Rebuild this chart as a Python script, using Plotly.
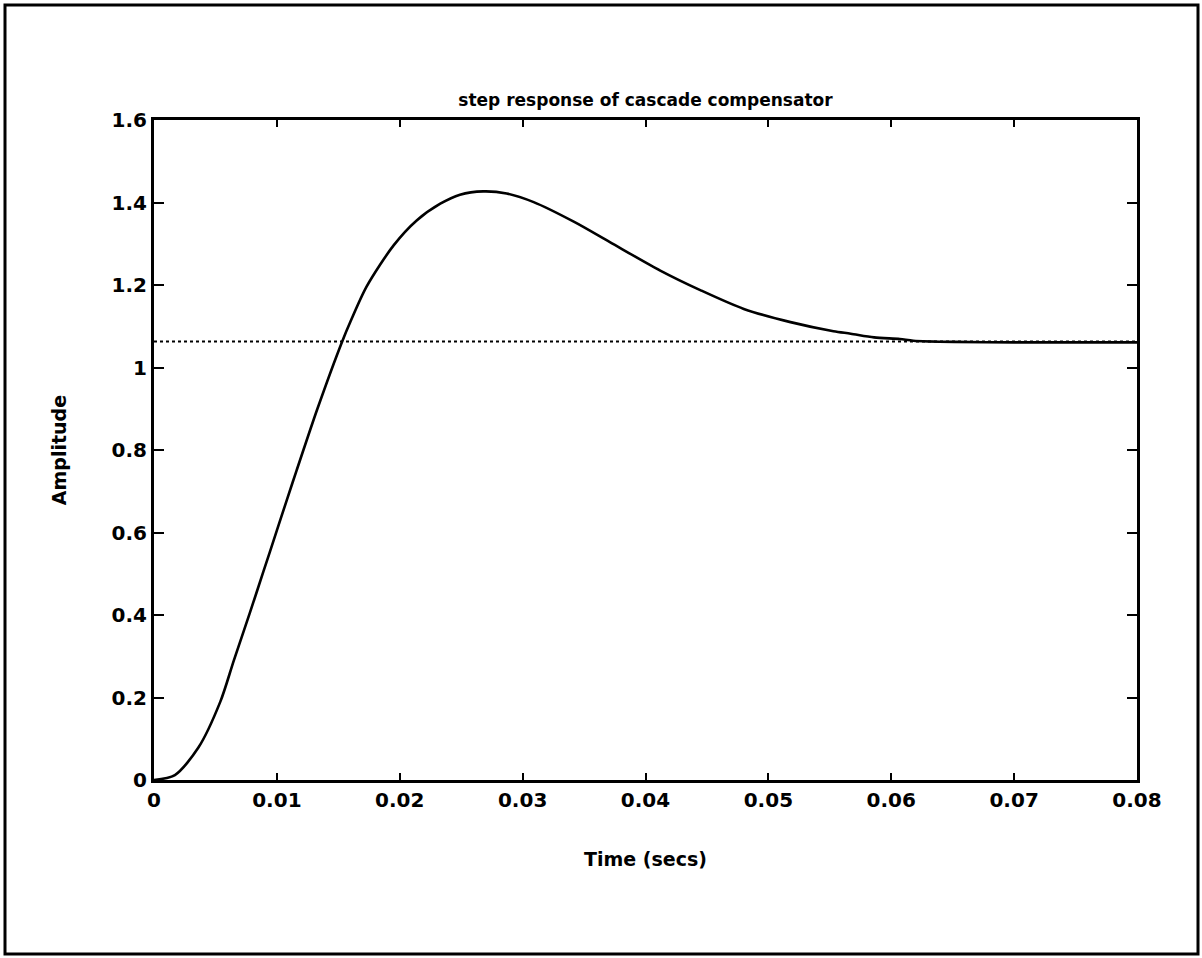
import plotly.graph_objects as go

# Data
time_s = [0.0, 0.0017, 0.0036, 0.0054, 0.0065, 0.0078, 0.0089, 0.0100, 0.0108, 0.0116,
          0.0133, 0.0153, 0.0160, 0.0173, 0.0195, 0.0214, 0.0233, 0.0249, 0.0268, 0.0287,
          0.0309, 0.0342, 0.0371, 0.0412, 0.0445, 0.0480, 0.0518, 0.0553, 0.0567, 0.0586,
          0.0607, 0.0618, 0.0651, 0.0700, 0.0750, 0.0800]
amplitude = [0.0, 0.012, 0.078, 0.190, 0.290, 0.405, 0.505, 0.605, 0.678, 0.750,
             0.900, 1.062, 1.112, 1.196, 1.296, 1.357, 1.397, 1.419, 1.427, 1.422,
             1.401, 1.353, 1.304, 1.235, 1.187, 1.142, 1.110, 1.088, 1.082, 1.073,
             1.069, 1.065, 1.062, 1.061, 1.061, 1.061]
final_value_t = [0.0, 0.08]
final_value = [1.063, 1.063]

x_ticks = [0, 0.01, 0.02, 0.03, 0.04, 0.05, 0.06, 0.07, 0.08]
x_tick_labels = ["0", "0.01", "0.02", "0.03", "0.04", "0.05", "0.06", "0.07", "0.08"]
y_ticks = [0, 0.2, 0.4, 0.6, 0.8, 1.0, 1.2, 1.4, 1.6]
y_tick_labels = ["0", "0.2", "0.4", "0.6", "0.8", "1", "1.2", "1.4", "1.6"]

FONT = "DejaVu Sans"

fig = go.Figure()
fig.add_trace(go.Scatter(x=final_value_t, y=final_value, mode="lines",
                         line=dict(color="black", width=2, dash="dot"),
                         showlegend=False, hoverinfo="skip"))
fig.add_trace(go.Scatter(x=time_s, y=amplitude, mode="lines",
                         line=dict(color="black", width=2.6, shape="spline", smoothing=0.8),
                         showlegend=False))

L, R, T, B = 154, 65, 120, 178
W, H = 1202, 958
pw, ph = W - L - R, H - T - B

fig.update_layout(
    width=W, height=H,
    margin=dict(l=L, r=R, t=T, b=B),
    paper_bgcolor="white", plot_bgcolor="white",
    font=dict(family=FONT, color="black", size=18),
    title=dict(text="<b>step response of cascade compensator</b>", x=(L + pw / 2) / W,
               xanchor="center", y=1 - 100 / H, yanchor="middle",
               font=dict(family=FONT, size=17, color="black")),
    xaxis=dict(range=[0, 0.08], tickvals=x_ticks,
               ticktext=["<b>%s</b>" % t for t in x_tick_labels],
               ticks="inside", ticklen=7, tickwidth=2, tickcolor="black",
               showline=True, linecolor="black", linewidth=3, mirror="ticks",
               showgrid=False, zeroline=False,
               tickfont=dict(family=FONT, size=20),
               title=dict(text="<b>Time (secs)</b>", font=dict(family=FONT, size=19), standoff=42)),
    yaxis=dict(range=[0, 1.6], tickvals=y_ticks,
               ticktext=["<b>%s</b>" % t for t in y_tick_labels],
               ticks="inside", ticklen=10, tickwidth=2, tickcolor="black",
               showline=True, linecolor="black", linewidth=3, mirror="ticks",
               showgrid=False, zeroline=False,
               tickfont=dict(family=FONT, size=20),
               title=dict(text="<b>Amplitude</b>", font=dict(family=FONT, size=19), standoff=40)),
    shapes=[dict(type="rect", xref="paper", yref="paper",
                 x0=(5 - L) / pw, x1=(1198 - L) / pw,
                 y0=(H - B - 954) / ph, y1=(H - B - 5) / ph,
                 line=dict(color="black", width=3), fillcolor="rgba(0,0,0,0)")],
)

fig.write_html("out.html")
